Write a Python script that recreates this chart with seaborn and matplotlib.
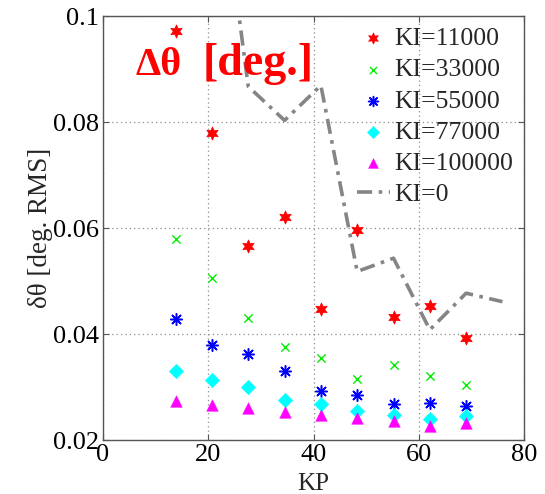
import numpy as np
import pandas as pd
import matplotlib
matplotlib.use("Agg")
import matplotlib.pyplot as plt
import seaborn as sns
from matplotlib.ticker import FixedLocator, FuncFormatter

# Proportional gain values
kp = [13.8, 20.7, 27.6, 34.5, 41.4, 48.3, 55.2, 62.1, 69.0]

# RMS angle error for each integral gain
ki_11000 = [0.0972, 0.0780, 0.0566, 0.0621, 0.0447, 0.0596, 0.0433, 0.0453, 0.0392]
ki_33000 = [0.0579, 0.0506, 0.0431, 0.0375, 0.0354, 0.0315, 0.0342, 0.0320, 0.0304]
ki_55000 = [0.0428, 0.0380, 0.0362, 0.0331, 0.0292, 0.0284, 0.0268, 0.0269, 0.0265]
ki_77000 = [0.0330, 0.0313, 0.0300, 0.0275, 0.0268, 0.0255, 0.0247, 0.0239, 0.0246]
ki_100000 = [0.0273, 0.0266, 0.0261, 0.0252, 0.0247, 0.0241, 0.0236, 0.0227, 0.0233]

# Integral gain off
kp_ki0 = [20.7, 27.6, 34.5, 41.4, 48.3, 55.2, 62.1, 69.0, 75.9]
ki_0 = [0.139, 0.0867, 0.0803, 0.0869, 0.0518, 0.0543, 0.0408, 0.0477, 0.0461]

series_labels = ["KI=11000", "KI=33000", "KI=55000", "KI=77000", "KI=100000"]
line_label = "KI=0"
x_ticks = [0, 20, 40, 60, 80]
y_ticks = [0.02, 0.04, 0.06, 0.08, 0.1]
x_title = "KP"
y_title = "δθ [deg. RMS]"
title_symbol = "Δθ"
title_unit = "[deg.]"

sns.set_theme(style="white")
plt.rcParams["font.family"] = ["Liberation Serif", "DejaVu Serif"]

fig = plt.figure(figsize=(5.45, 4.94), dpi=100)
ax = fig.add_axes([0.189, 0.1093, 0.7725, 0.8583])

styles = [
    dict(marker=(6, 1, 0), color="#ff0000", s=90, linewidths=0.5, edgecolor="#ff0000"),
    dict(marker="x", color="#00ee00", s=36, linewidths=1.0),
    dict(marker=(8, 2, 0), color="#0000ff", s=70, linewidths=1.1),
    dict(marker="D", color="#00ffff", s=55, linewidths=0.3, edgecolor="#00ffff"),
    dict(marker="^", color="#ff00ff", s=70, linewidths=0.3, edgecolor="#ff00ff"),
]
series = [ki_11000, ki_33000, ki_55000, ki_77000, ki_100000]

for vals, lab, st in zip(series, series_labels, styles):
    df = pd.DataFrame({"KP": kp, "err": vals})
    sns.scatterplot(data=df, x="KP", y="err", ax=ax, label=lab, zorder=3, **st)

df0 = pd.DataFrame({"KP": kp_ki0, "err": ki_0})
sns.lineplot(data=df0, x="KP", y="err", ax=ax, sort=False, color="#858585",
             lw=2.6, label=line_label, zorder=2)
ln = ax.lines[-1]
ln.set_dashes((4.2, 1.8, 1.0, 1.8))

ax.set_xlim(0, 80)
ax.set_ylim(0.02, 0.1)
ax.xaxis.set_major_locator(FixedLocator(x_ticks))
ax.yaxis.set_major_locator(FixedLocator(y_ticks))
ax.yaxis.set_major_formatter(FuncFormatter(lambda v, p: f"{v:g}"))
ax.grid(True, linestyle=(0, (1, 2.5)), color="#8c8c8c", lw=0.9)
for sp in ax.spines.values():
    sp.set_color("#555555")
    sp.set_linewidth(1.0)
ax.tick_params(direction="in", length=4, width=0.8, color="#555555",
               top=True, right=True, bottom=True, left=True,
               labelsize=19, labelcolor="black", pad=3)

ax.set_xlabel(x_title, fontsize=18, labelpad=5)
ax.set_ylabel(y_title, fontsize=19.5, labelpad=0)

# Panel heading: symbol and unit in slightly different sizes
ax.text(0.076, 0.862, title_symbol, transform=ax.transAxes, color="#ff0000",
        fontsize=29, fontweight="bold", ha="left", va="baseline", zorder=4)
ax.text(0.2375, 0.862, title_unit, transform=ax.transAxes, color="#ff0000",
        fontsize=33, fontweight="bold", ha="left", va="baseline", zorder=4)

handles, labels = ax.get_legend_handles_labels()
order = series_labels + [line_label]
hmap = dict(zip(labels, handles))
leg = ax.legend([hmap[l] for l in order], order, loc="upper right",
                bbox_to_anchor=(1.01, 1.01), frameon=False, fontsize=18.5,
                handlelength=1.3, handletextpad=0.15, labelspacing=0.32,
                borderaxespad=0.2, markerscale=0.85)

fig.savefig("out.png", dpi=100)
